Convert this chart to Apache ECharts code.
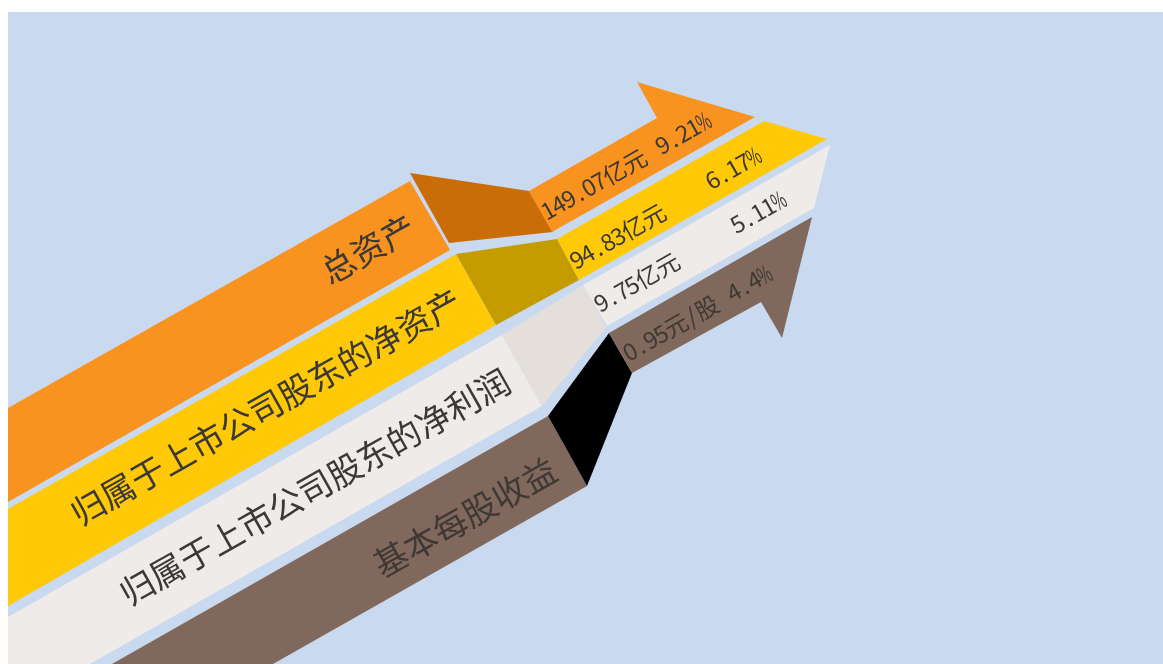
<!DOCTYPE html>
<html><head><meta charset="utf-8">
<style>html,body{margin:0;padding:0;background:#fff;overflow:hidden}#c{position:absolute;left:8px;top:12px;width:1155px;height:652px}</style>
<script src="https://cdn.jsdelivr.net/npm/echarts@6/dist/echarts.min.js"></script>
</head><body><div id="c"></div>
<script>
const bandNames = ['总资产','归属于上市公司股东的净资产','归属于上市公司股东的净利润','基本每股收益'];
const amounts = ['149.07亿元','94.83亿元','9.75亿元','0.95元/股'];
const growth = ['9.21%','6.17%','5.11%','4.4%'];
const colors = ['#F9931F','#FFC907','#EEEBE8','#80685C'];
const foldColors = ['#CA6D07','#C49C00','#E5DFDC','#000000'];
const textColors = ['#3B3838','#3B3838','#3B3838','#3F3835'];
const tailShapes = [
 [[8,408],[410,181],[450,250],[8,502]],
 [[8,509],[456,254],[496,325],[8,606]],
 [[8,617],[502,335],[542,406],[90,664],[8,664]],
 [[548,416],[587,486],[273,664],[112,664]]
];
const foldShapes = [
 [[410,173],[529,191],[553,232],[449,243]],
 [[456,254],[557,239],[579,280],[496,325]],
 [[502,335],[583,285],[606,327],[542,406]],
 [[548,416],[609,333],[632,373],[587,486]]
];
const headShapes = [
 [[529,191],[657,118],[637,82],[755,117],[552,232]],
 [[557,239],[764,121],[827,139],[579,280]],
 [[583,285],[830,145],[814,208],[607,326]],
 [[609,333],[812,217],[782,338],[761,302],[632,373]]
];
const nameAnchors = [[368,249],[266,407],[315,487],[465,517]];
const amountAnchors = [[594,184],[618,236],[637,282],[671,328]];
const growthAnchors = [[683,133],[733,168],[758,212],[749,283]];

const polys = [];
[tailShapes, foldShapes, headShapes].forEach((set,k)=>set.forEach((pts,i)=>{
  polys.push({value:[k,i], pts, color:(k===1?foldColors:colors)[i]});
}));
const texts = [];
bandNames.forEach((t,i)=>texts.push({value:[i,0],t,band:i,at:nameAnchors[i],size:34}));
amounts.forEach((t,i)=>texts.push({value:[i,1],t,band:i,at:amountAnchors[i],size:23.5}));
growth.forEach((t,i)=>texts.push({value:[i,2],t,band:i,at:growthAnchors[i],size:23.5}));
const ang = 29.5*Math.PI/180;
const isHalf = ch => ch.charCodeAt(0) < 256;

function textGroup(d,c){
  const chars = Array.from(d.t);
  const adv = chars.map(ch=>isHalf(ch)?d.size*0.5:d.size);
  const total = adv.reduce((a,b)=>a+b,0);
  let pos = -total/2;
  const children = chars.map((ch,j)=>{
    const cx = pos + adv[j]/2; pos += adv[j];
    return {type:'text',x:cx,y:0,scaleX:ch==='%'?0.62:1,
      style:{text:ch,fill:textColors[d.band],fontSize:d.size,fontFamily:'"Noto Sans CJK SC"',align:'center',verticalAlign:'middle'}};
  });
  return {type:'group',x:c[0],y:c[1],rotation:ang,children};
}

const chart = echarts.init(document.getElementById('c'),null,{renderer:'canvas'});
chart.setOption({
  animation:false,
  backgroundColor:'#C9D9EF',
  grid:{left:0,right:0,top:0,bottom:0},
  xAxis:{type:'value',min:8,max:1163,show:false},
  yAxis:{type:'value',min:12,max:664,inverse:true,show:false},
  series:[
   {type:'custom',coordinateSystem:'cartesian2d',silent:true,clip:true,data:polys,encode:{x:0,y:1},
    renderItem:(p,api)=>{const d=polys[p.dataIndex];
      return {type:'polygon',shape:{points:d.pts.map(q=>api.coord(q))},style:{fill:d.color}};}},
   {type:'custom',coordinateSystem:'cartesian2d',silent:true,z:5,data:texts,encode:{x:0,y:1},
    renderItem:(p,api)=>{const d=texts[p.dataIndex];return textGroup(d,api.coord(d.at));}}
  ]
});
</script></body></html>
